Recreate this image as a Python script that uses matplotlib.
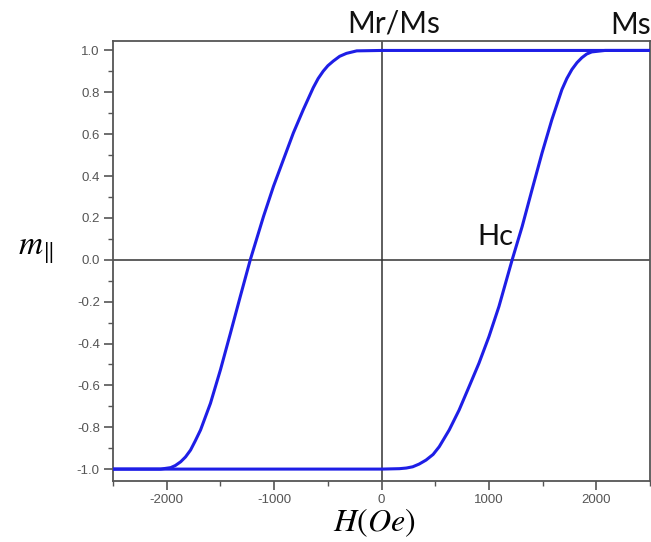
import numpy as np
import matplotlib.pyplot as plt
from matplotlib.ticker import MultipleLocator

plt.rcParams['axes.unicode_minus'] = False
plt.rcParams['mathtext.fontset'] = 'stix'

# descending branch (upper)
h_down = [2500, 2000, 1000, 0, -231, -327, -390, -450, -500, -543, -590, -636,
          -728, -821, -914, -1006, -1099, -1222, -1315, -1407, -1500, -1593,
          -1685, -1735, -1778, -1825, -1870, -1920, -1963, -2056, -2500]
m_down = [1.0, 1.0, 1.0, 1.0, 0.998, 0.986, 0.972, 0.949, 0.927, 0.901, 0.866, 0.822,
          0.718, 0.606, 0.478, 0.351, 0.207, 0.0, -0.175, -0.351, -0.526, -0.686,
          -0.813, -0.866, -0.909, -0.942, -0.965, -0.983, -0.993, -1.0, -1.0]

# ascending branch (lower)
h_up = [-2500, -2000, -1000, 0, 167, 230, 290, 350, 414, 480, 537, 630, 722,
        815, 907, 1000, 1093, 1216, 1309, 1401, 1494, 1586, 1679, 1725, 1772,
        1820, 1864, 1910, 1957, 2080, 2500]
m_up = [-1.0, -1.0, -1.0, -1.0, -0.998, -0.995, -0.989, -0.976, -0.957, -0.93, -0.893,
        -0.813, -0.718, -0.606, -0.494, -0.367, -0.223, 0.0, 0.159, 0.335, 0.51,
        0.67, 0.813, 0.866, 0.909, 0.942, 0.965, 0.983, 0.993, 1.0, 1.0]

y_ticks = [-1.0, -0.8, -0.6, -0.4, -0.2, 0.0, 0.2, 0.4, 0.6, 0.8, 1.0]
y_labels = ['-1.0', '-0.8', '-0.6', '-0.4', '-0.2', '0.0', '0.2', '0.4', '0.6', '0.8', '1.0']

fig = plt.figure(figsize=(6.51, 5.42), dpi=100)
ax = fig.add_axes([0.1736, 0.1125, 0.825, 0.8118])

ax.axhline(0, color='#333333', lw=1.1, zorder=1)
ax.axvline(0, color='#333333', lw=1.1, zorder=1)

line_color = '#1e1ee6'
ax.plot(h_down, m_down, color=line_color, lw=2.2, zorder=3)
ax.plot(h_up, m_up, color=line_color, lw=2.2, zorder=3)

ax.set_xlim(-2500, 2500)
ax.set_ylim(-1.057, 1.045)

ax.xaxis.set_major_locator(MultipleLocator(1000))
ax.xaxis.set_minor_locator(MultipleLocator(500))
ax.set_yticks(y_ticks)
ax.set_yticklabels(y_labels)
ax.yaxis.set_minor_locator(MultipleLocator(0.1))

for s in ax.spines.values():
    s.set_color('#555555')
    s.set_linewidth(1.3)

ax.tick_params(which='major', direction='out', length=6.5, width=1.2,
               color='#555555', labelcolor='#555555', labelsize=9.5, pad=3)
ax.tick_params(which='minor', direction='out', length=3.5, width=1.0,
               color='#555555')
for lab in ax.get_xticklabels() + ax.get_yticklabels():
    lab.set_fontfamily('Liberation Sans')

# annotations
fig.text(394 / 651, 1 - 23 / 542, 'Mr/Ms', fontsize=21.5, family='Lato',
         ha='center', va='center', color='#111111')
fig.text(651 / 651, 1 - 25 / 542, 'Ms', fontsize=21.5, family='Lato',
         ha='right', va='center', color='#111111')
fig.text(495 / 651, 1 - 237 / 542, 'Hc', fontsize=21, family='Lato',
         ha='center', va='center', color='#111111')

fig.text(36 / 651, 1 - 249 / 542, r'$m_{\Vert}$', fontsize=24,
         ha='center', va='center', color='black')
fig.text(374 / 651, 1 - 523 / 542, r'$H(Oe)$', fontsize=23,
         ha='center', va='center', color='black')

fig.savefig('out.png', dpi=100)
